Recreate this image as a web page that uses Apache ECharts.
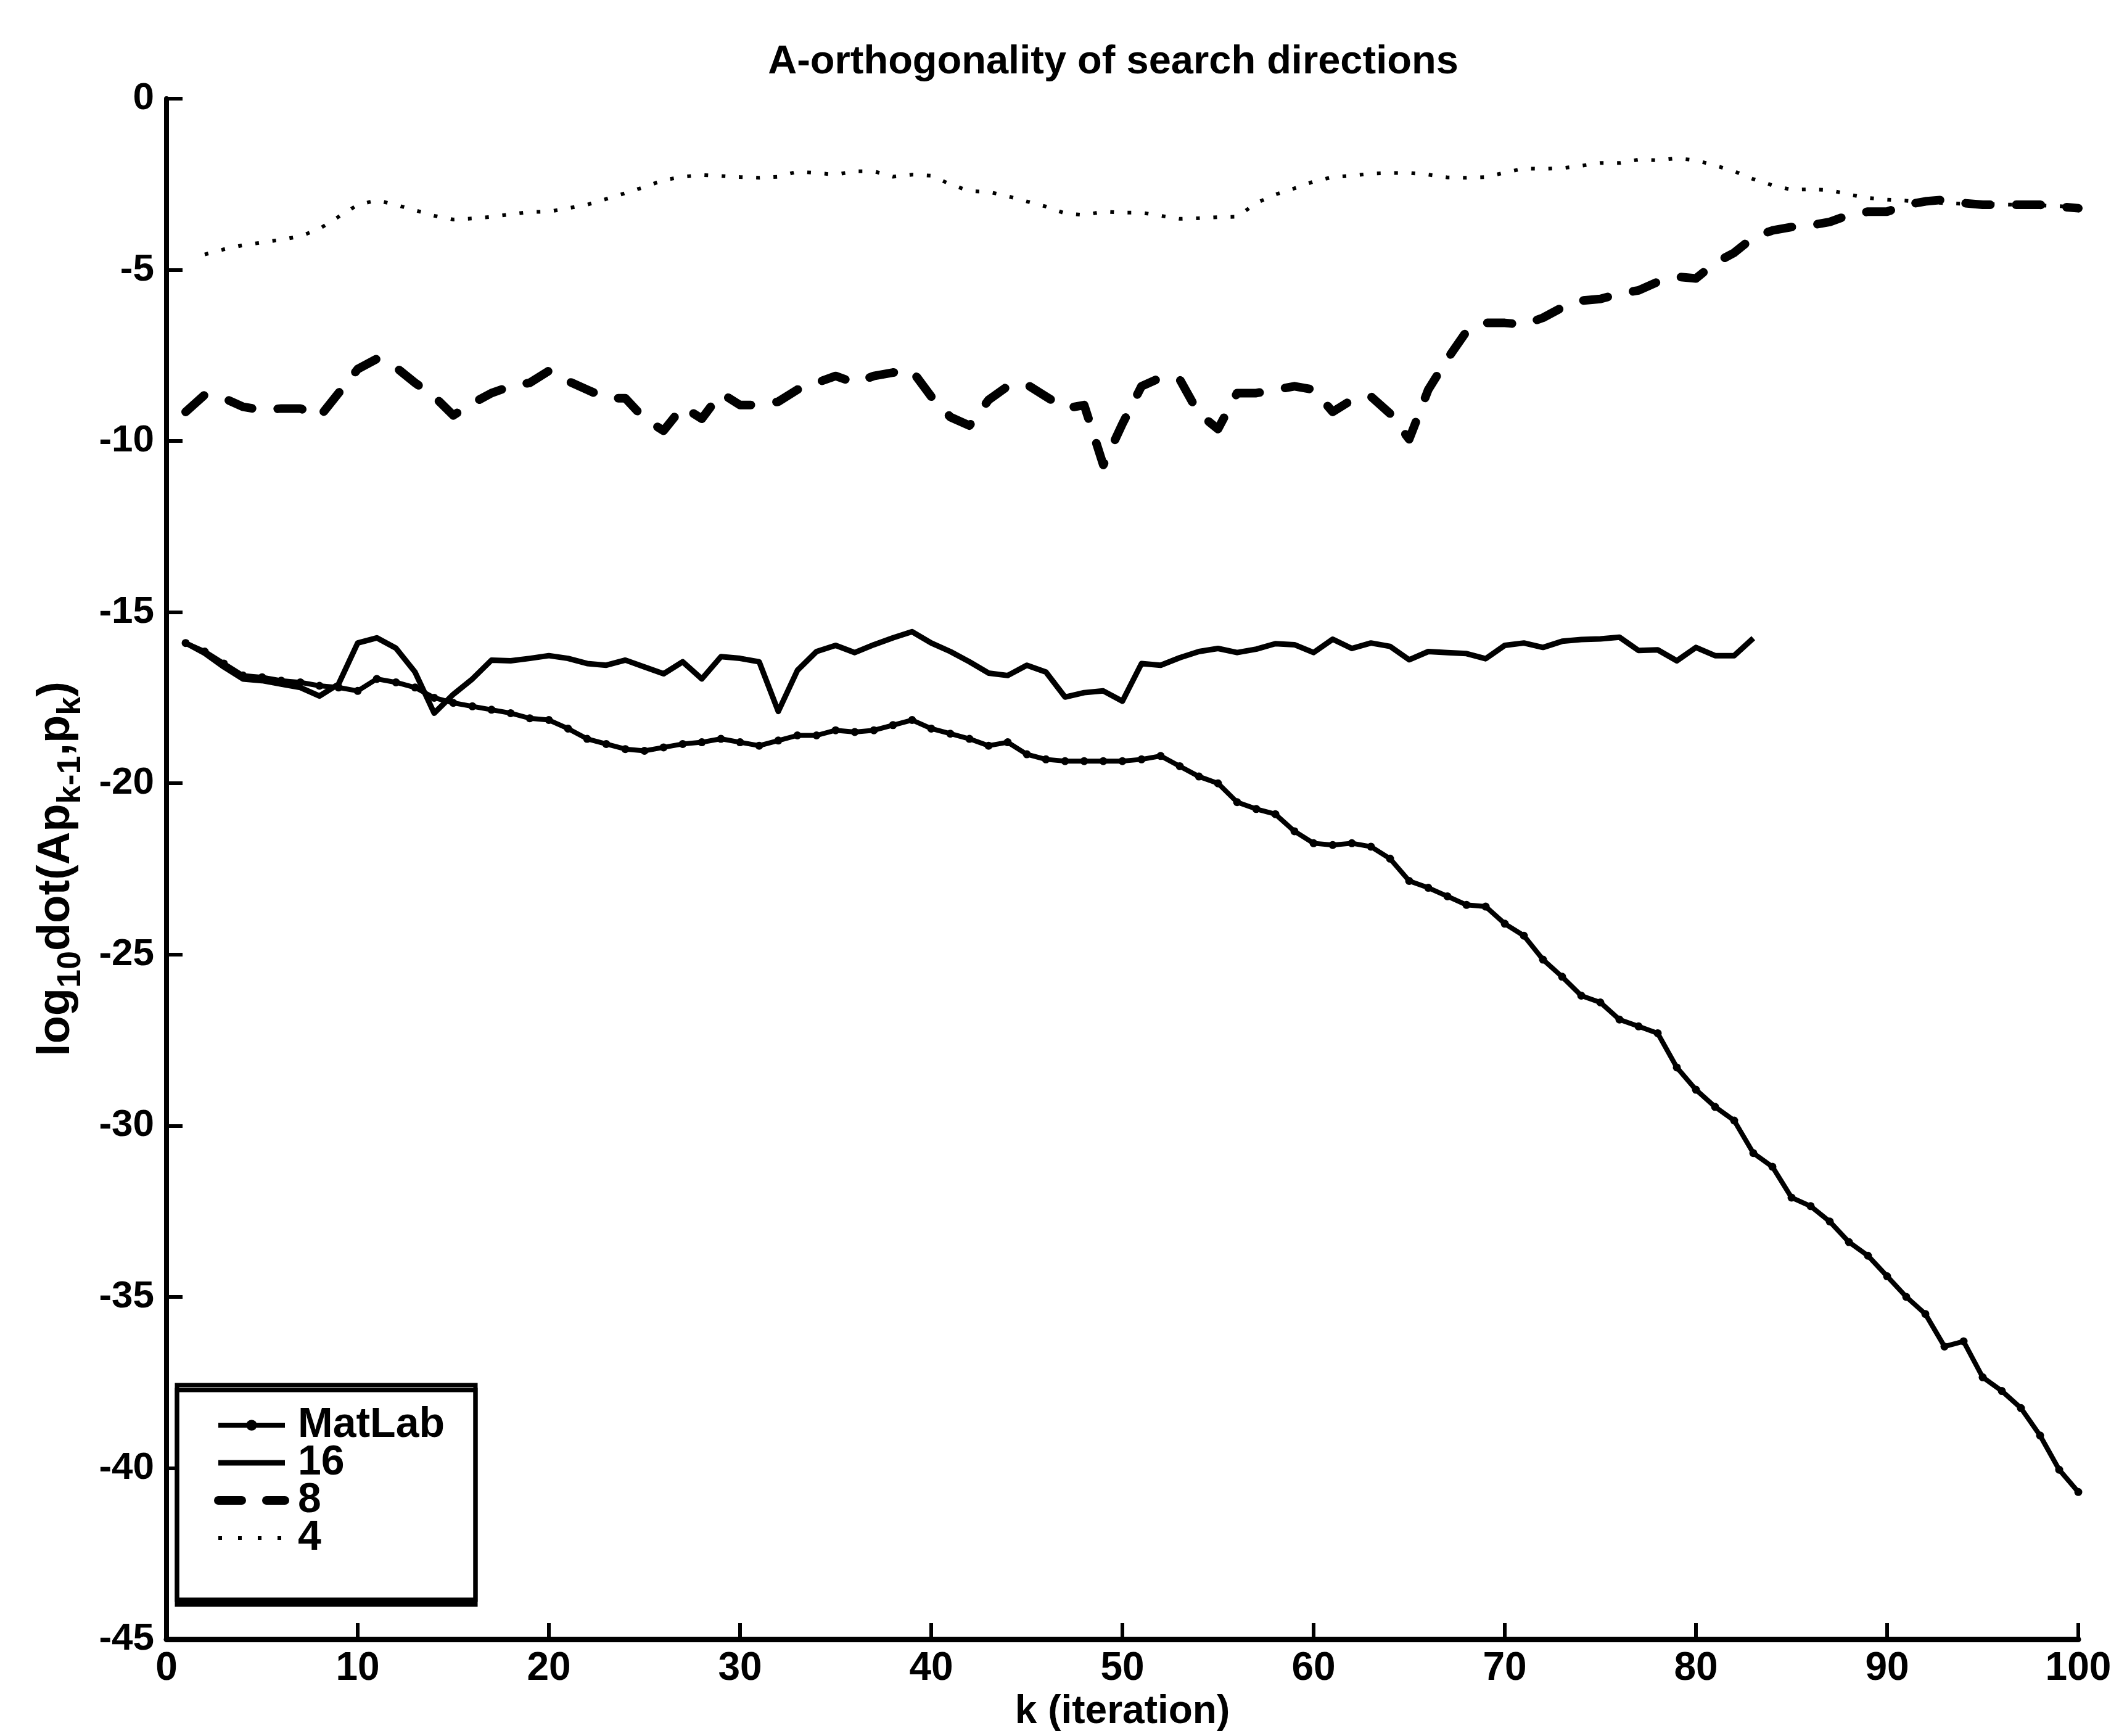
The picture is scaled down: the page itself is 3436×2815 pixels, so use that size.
<!DOCTYPE html>
<html>
<head>
<meta charset="utf-8">
<script src="https://cdn.jsdelivr.net/npm/echarts@6/dist/echarts.min.js"></script>
<style>
  html, body { margin: 0; padding: 0; background: #ffffff; }
  #chart { width: 3436px; height: 2815px; }
</style>
</head>
<body>
<div id="chart"></div>
<script>
// ---- Data ----
const titleText = 'A-orthogonality of search directions';
const xAxisTitle = 'k (iteration)';
const seriesNames = ['MatLab', '16', '8', '4'];
const xTicks = [0, 10, 20, 30, 40, 50, 60, 70, 80, 90, 100];
const yTicks = [0, -5, -10, -15, -20, -25, -30, -35, -40, -45];

// MatLab: k = 1..100
const matlabStartK = 1;
const matlabValues = [
  -15.9, -16.15, -16.5, -16.85, -16.9, -17.0, -17.05, -17.15, -17.2, -17.3,
  -16.95, -17.05, -17.2, -17.5, -17.65, -17.75, -17.85, -17.95, -18.1, -18.15,
  -18.4, -18.7, -18.85, -19.0, -19.05, -18.95, -18.85, -18.8, -18.7, -18.8,
  -18.9, -18.75, -18.6, -18.6, -18.45, -18.5, -18.45, -18.3, -18.15, -18.4,
  -18.55, -18.7, -18.9, -18.8, -19.15, -19.3, -19.35, -19.35, -19.35, -19.35,
  -19.3, -19.2, -19.5, -19.8, -20.0, -20.55, -20.75, -20.9, -21.4, -21.75,
  -21.8, -21.75, -21.85, -22.2, -22.85, -23.05, -23.3, -23.55, -23.6, -24.1,
  -24.45, -25.15, -25.65, -26.2, -26.4, -26.9, -27.1, -27.3, -28.3, -28.95,
  -29.45, -29.85, -30.8, -31.2, -32.1, -32.35, -32.8, -33.4, -33.8, -34.4,
  -35.0, -35.5, -36.45, -36.3, -37.35, -37.75, -38.25, -39.05, -40.05, -40.7
];

// 16: k = 1..83
const s16StartK = 1;
const s16Values = [
  -15.9, -16.2, -16.6, -16.95, -17.0, -17.1, -17.2, -17.45, -17.1, -15.9,
  -15.75, -16.05, -16.75, -17.95, -17.4, -16.95, -16.4, -16.42, -16.35, -16.27,
  -16.35, -16.5, -16.55, -16.4, -16.6, -16.8, -16.45, -16.95, -16.3, -16.35,
  -16.45, -17.9, -16.7, -16.15, -15.97, -16.18, -15.95, -15.75, -15.57, -15.9,
  -16.15, -16.45, -16.78, -16.85, -16.55, -16.75, -17.48, -17.35, -17.3, -17.6,
  -16.5, -16.55, -16.33, -16.15, -16.06, -16.18, -16.08, -15.92, -15.95, -16.18,
  -15.79, -16.06, -15.9, -16.0, -16.39, -16.15, -16.18, -16.21, -16.36, -15.97,
  -15.9, -16.03, -15.85, -15.8, -15.78, -15.73, -16.12, -16.1, -16.42, -16.03,
  -16.27, -16.27, -15.76
];

// 8: k = 1..100
const s8StartK = 1;
const s8Values = [
  -9.15, -8.65, -8.75, -9.0, -9.1, -9.05, -9.05, -9.3, -8.6, -7.9,
  -7.6, -7.85, -8.3, -8.7, -9.25, -8.9, -8.6, -8.4, -8.3, -7.95,
  -8.25, -8.5, -8.75, -8.75, -9.35, -9.7, -9.0, -9.35, -8.6, -8.95,
  -8.95, -8.85, -8.5, -8.3, -8.1, -8.3, -8.1, -8.0, -7.95, -8.7,
  -9.3, -9.55, -8.8, -8.4, -8.35, -8.7, -9.05, -8.95, -10.7, -9.5,
  -8.4, -8.15, -8.2, -9.2, -9.65, -8.6, -8.6, -8.5, -8.4, -8.5,
  -9.15, -8.8, -8.7, -9.2, -9.95, -8.5, -7.6, -6.8, -6.55, -6.55,
  -6.6, -6.4, -6.1, -5.9, -5.85, -5.7, -5.6, -5.35, -5.2, -5.25,
  -4.8, -4.5, -4.05, -3.85, -3.75, -3.7, -3.6, -3.4, -3.3, -3.3,
  -3.1, -3.0, -2.95, -3.05, -3.1, -3.1, -3.1, -3.1, -3.15, -3.2
];

// 4: k = 2..100
const s4StartK = 2;
const s4Values = [
  -4.55, -4.4, -4.28, -4.2, -4.12, -4.02, -3.8, -3.45, -3.1,
  -2.97, -3.1, -3.26, -3.42, -3.53, -3.5, -3.45, -3.38, -3.31, -3.3,
  -3.2, -3.1, -2.93, -2.76, -2.58, -2.38, -2.28, -2.23, -2.26, -2.29,
  -2.31, -2.28, -2.13, -2.17, -2.22, -2.12, -2.12, -2.28, -2.22, -2.25,
  -2.5, -2.7, -2.72, -2.85, -3.0, -3.15, -3.35, -3.4, -3.3, -3.33,
  -3.33, -3.42, -3.51, -3.49, -3.46, -3.45, -3.05, -2.8, -2.62, -2.42,
  -2.29, -2.25, -2.19, -2.17, -2.17, -2.22, -2.3, -2.31, -2.29, -2.16,
  -2.04, -2.05, -2.03, -1.96, -1.88, -1.88, -1.78, -1.8, -1.74, -1.8,
  -1.95, -2.12, -2.35, -2.53, -2.66, -2.65, -2.67, -2.8, -2.9, -2.95,
  -2.98, -3.02, -3.05, -3.07, -3.08, -3.09, -3.1, -3.12, -3.14, -3.17
];

// ---- Build series data (x = iteration index) ----
function toPairs(values, startK) {
  return values.map(function (v, i) { return [startK + i, v]; });
}

const FONT = '"Liberation Sans", Arial, Helvetica, sans-serif';
const INK = '#000000';

const chart = echarts.init(document.getElementById('chart'), null, { renderer: 'canvas', width: 3436, height: 2815 });

const hiddenSymbol = { opacity: 0 };

const option = {
  backgroundColor: '#ffffff',
  animation: false,
  title: {
    text: titleText,
    left: 1800,
    top: 64,
    textAlign: 'center',
    textStyle: { fontFamily: FONT, fontWeight: 'bold', fontSize: 65, color: INK }
  },
  grid: { left: 270, top: 160, width: 3100, height: 2498, containLabel: false },
  xAxis: {
    type: 'value',
    min: xTicks[0],
    max: xTicks[xTicks.length - 1],
    interval: 10,
    name: xAxisTitle,
    nameLocation: 'middle',
    nameGap: 86,
    nameTextStyle: { fontFamily: FONT, fontWeight: 'bold', fontSize: 64, color: INK },
    axisLine: { show: true, onZero: false, lineStyle: { color: INK, width: 9 } },
    axisTick: { show: true, inside: true, length: 26, lineStyle: { color: INK, width: 6 } },
    axisLabel: { show: true, margin: 16, fontFamily: FONT, fontWeight: 'bold', fontSize: 64, color: INK,
      formatter: function (v) { return String(v); } },
    splitLine: { show: false }
  },
  yAxis: {
    type: 'value',
    min: yTicks[yTicks.length - 1],
    max: yTicks[0],
    interval: 5,
    name: '{n|log}{s|10}{n|dot(Ap}{s|k-1}{n|,p}{s|k}{n|)}',
    nameLocation: 'middle',
    nameRotate: 90,
    nameGap: 128,
    nameTextStyle: {
      fontFamily: FONT, fontWeight: 'bold', fontSize: 74, color: INK,
      rich: {
        n: { fontFamily: FONT, fontWeight: 'bold', fontSize: 74, color: INK, lineHeight: 100, verticalAlign: 'middle' },
        s: { fontFamily: FONT, fontWeight: 'bold', fontSize: 54, color: INK, lineHeight: 100, verticalAlign: 'bottom' }
      }
    },
    axisLine: { show: true, onZero: false, lineStyle: { color: INK, width: 8 } },
    axisTick: { show: true, inside: true, length: 26, lineStyle: { color: INK, width: 6 } },
    axisLabel: { show: true, margin: 20, fontFamily: FONT, fontWeight: 'bold', fontSize: 62, color: INK,
      formatter: function (v) { return String(v); } },
    splitLine: { show: false }
  },
  legend: {
    orient: 'vertical',
    left: 287,
    top: 2246,
    padding: [31, 50, 66, 60],
    itemGap: -7,
    itemWidth: 108,
    itemHeight: 22,
    backgroundColor: '#ffffff',
    borderColor: INK,
    borderWidth: 7,
    borderRadius: 0,
    shadowColor: INK,
    shadowBlur: 0,
    shadowOffsetX: 0,
    shadowOffsetY: 8,
    textStyle: { fontFamily: FONT, fontWeight: 'bold', fontSize: 68, color: INK, padding: [0, 0, 0, 16] },
    data: [
      { name: seriesNames[0], lineStyle: { width: 8, type: 'solid', color: INK } },
      { name: seriesNames[1], itemStyle: hiddenSymbol, lineStyle: { width: 9, type: 'solid', color: INK } },
      { name: seriesNames[2], itemStyle: hiddenSymbol, lineStyle: { width: 14, type: [38, 40], cap: 'round', color: INK } },
      { name: seriesNames[3], itemStyle: hiddenSymbol, lineStyle: { width: 6, type: [6, 26], color: INK } }
    ]
  },
  series: [
    {
      name: seriesNames[3], type: 'line', data: toPairs(s4Values, s4StartK),
      symbol: 'none', smooth: false, z: 2,
      lineStyle: { color: INK, width: 6, type: [6, 22], cap: 'butt' },
      itemStyle: { color: INK }
    },
    {
      name: seriesNames[2], type: 'line', data: toPairs(s8Values, s8StartK),
      symbol: 'none', smooth: false, z: 3,
      lineStyle: { color: INK, width: 14, type: [40, 42], cap: 'round', join: 'round' },
      itemStyle: { color: INK }
    },
    {
      name: seriesNames[1], type: 'line', data: toPairs(s16Values, s16StartK),
      symbol: 'none', smooth: false, z: 4,
      lineStyle: { color: INK, width: 9, type: 'solid', join: 'round' },
      itemStyle: { color: INK }
    },
    {
      name: seriesNames[0], type: 'line', data: toPairs(matlabValues, matlabStartK),
      symbol: 'circle', symbolSize: 13, showSymbol: true, smooth: false, z: 5,
      lineStyle: { color: INK, width: 8, type: 'solid', join: 'round' },
      itemStyle: { color: INK, borderWidth: 0 }
    }
  ]
};

chart.setOption(option);
</script>
</body>
</html>
